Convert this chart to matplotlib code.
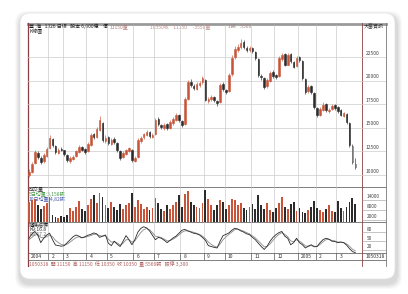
import matplotlib
matplotlib.use("Agg")
import matplotlib.pyplot as plt
from matplotlib.patches import FancyBboxPatch

plt.rcParams['font.family'] = ['Noto Sans CJK TC', 'DejaVu Sans']

# ---------------- data ----------------
opens = [10000, 10300, 11300, 12300, 11800, 11500, 12000, 12900, 13800, 13100,
         12300, 12800, 12600, 12100, 11500, 11700, 12000, 12400, 13000, 12800,
         12500, 13200, 14300, 14000, 14800, 15500, 13600, 14000, 13300, 13800,
         13400, 12500, 11900, 12200, 12500, 12700, 11500, 11900, 13600, 14000,
         14200, 14600, 14000, 14300, 15900, 15300, 15000, 15400, 15000, 15500,
         15800, 16400, 15700, 15400, 18100, 19900, 19400, 19100, 19500, 19800,
         20100, 17800, 18000, 18300, 17800, 17700, 19600, 19000, 18900, 20700,
         22500, 23200, 23600, 24100, 23500, 23200, 23500, 23000, 22300, 20500,
         20300, 19400, 20000, 20900, 20600, 20500, 22300, 22800, 21700, 22800,
         22000, 21500, 22500, 22100, 20200, 18900, 19400, 18700, 17100, 16400,
         16900, 17500, 16800, 17000, 17400, 17200, 16900, 16300, 16500, 15500,
         13100, 11200]
highs = [10600, 11400, 12700, 12500, 12000, 12300, 13000, 14200, 13900, 13200,
         12900, 13000, 12700, 12200, 12000, 12100, 12700, 13200, 13100, 12900,
         13500, 14400, 14500, 15100, 16200, 15600, 14200, 14100, 13900, 14000,
         13500, 12600, 12500, 12800, 13000, 12800, 12000, 13900, 14100, 14500,
         14800, 14700, 14400, 16000, 16100, 15400, 15500, 15500, 15800, 16100,
         16600, 16500, 15800, 18300, 20100, 20200, 19600, 19800, 20000, 20500,
         20200, 18300, 18500, 18400, 17900, 19700, 19800, 19100, 20800, 22700,
         23700, 23900, 24400, 24300, 23700, 23700, 23600, 23100, 22400, 20700,
         20400, 20300, 21000, 21100, 20700, 22600, 22900, 22900, 22900, 22900,
         22100, 22600, 22600, 22200, 20300, 19500, 19500, 18800, 17200, 17200,
         17700, 17600, 17100, 17500, 17500, 17300, 17000, 16700, 16600, 15600,
         13300, 11800]
lows = [9800, 10200, 11200, 11700, 11200, 11300, 11900, 12800, 13000, 12200,
        12200, 12500, 12000, 11400, 11300, 11600, 11900, 12300, 12500, 12200,
        12400, 13100, 13800, 13900, 14700, 13500, 13400, 13200, 13200, 13300,
        12400, 11600, 11800, 12100, 12400, 11400, 11400, 11800, 13400, 13800,
        14100, 13900, 13900, 14200, 15200, 14900, 14800, 14800, 14900, 15300,
        15700, 15600, 15100, 15300, 17900, 19300, 19000, 19000, 19300, 19600,
        17800, 17600, 17800, 17700, 17300, 17600, 18900, 18600, 18800, 20500,
        22300, 23000, 23400, 23300, 23000, 23000, 22900, 22200, 20400, 20100,
        19100, 19200, 19900, 20300, 20200, 20400, 22100, 21500, 21600, 21900,
        21300, 21400, 22000, 20100, 18600, 18700, 18600, 17000, 16100, 16200,
        16800, 16700, 16600, 16900, 16900, 16600, 16200, 16100, 15400, 13000,
        11200, 10600]
closes = [10300, 11200, 12400, 11900, 11400, 12100, 12800, 13900, 13200, 12400,
          12700, 12650, 12200, 11600, 11800, 11900, 12500, 12950, 12700, 12400,
          13300, 14200, 14000, 14900, 15800, 13700, 13900, 13400, 13700, 13500,
          12600, 11800, 12300, 12600, 12850, 11600, 11800, 13700, 13900, 14300,
          14550, 14100, 14250, 15800, 15400, 15100, 15300, 15000, 15600, 15900,
          16350, 15800, 15300, 18000, 19800, 19500, 19200, 19600, 19750, 20250,
          17950, 18100, 18250, 17900, 17600, 19500, 19100, 18800, 20600, 22400,
          23300, 23550, 24000, 23600, 23250, 23450, 23100, 22400, 20600, 20400,
          19300, 20100, 20800, 20500, 20400, 22400, 22700, 21650, 22700, 22100,
          21450, 22400, 22200, 20300, 18800, 19300, 18800, 17200, 16350, 17000,
          17400, 16900, 16900, 17300, 17100, 16800, 16350, 16550, 15600, 13200,
          11400, 10900]
volumes = [12000, 13500, 14000, 10500, 8000, 9500, 11500, 15000, 4000, 3000,
           2500, 3500, 2800, 4500, 8500, 6500, 9000, 12500, 8000, 6500,
           10500, 14000, 16500, 11500, 17500, 15000, 10500, 8500, 12000, 9000,
           7500, 11000, 8000, 10000, 11500, 17500, 9000, 13500, 11000, 8000,
           9000, 7500, 8500, 14500, 11500, 8000, 6500, 10000, 8000, 10500,
           12000, 16000, 9000, 17000, 18500, 12000, 10500, 9000, 8500, 11500,
           19500, 14000, 10000, 7500, 10500, 13000, 12000, 8000, 10000, 14000,
           13000, 10500, 11500, 8500, 7500, 9000, 11000, 8000, 16500, 10000,
           8000, 11500, 7500, 6000, 8500, 11500, 15000, 9000, 8000, 11000,
           12000, 6500, 8500, 6000, 5500, 7500, 9000, 12500, 8500, 7500,
           6000, 8000, 10500, 6500, 6000, 12500, 8500, 6500, 9000, 12000,
           14500, 11000]
k_line = [55, 70, 78, 66, 40, 55, 66, 72, 50, 32, 30, 28, 30, 40, 50, 60, 66, 62, 56, 60,
          65, 68, 73, 70, 58, 62, 66, 38, 30, 45, 35, 27, 45, 64, 50, 33, 50, 75, 88, 94,
          90, 80, 65, 50, 58, 55, 48, 40, 48, 56, 62, 72, 82, 85, 80, 76, 72, 70, 66, 58,
          48, 30, 27, 24, 22, 45, 64, 68, 73, 82, 89, 86, 80, 76, 70, 67, 58, 50, 38, 27,
          17, 28, 45, 58, 67, 74, 78, 62, 55, 33, 40, 55, 40, 33, 22, 28, 33, 26, 27, 40,
          50, 55, 52, 45, 44, 40, 42, 40, 32, 20, 10, 6]
d_line = [50, 58, 66, 68, 58, 56, 60, 66, 60, 48, 40, 34, 32, 35, 42, 50, 57, 60, 58, 58,
          61, 64, 68, 69, 64, 62, 64, 52, 42, 43, 39, 32, 38, 50, 50, 42, 46, 60, 74, 84,
          88, 84, 74, 62, 60, 57, 52, 46, 47, 52, 58, 66, 75, 80, 80, 78, 75, 72, 68, 62,
          54, 42, 34, 28, 25, 35, 50, 60, 68, 76, 84, 86, 83, 79, 74, 70, 63, 56, 46, 36,
          26, 27, 36, 48, 59, 68, 74, 68, 60, 46, 43, 50, 45, 38, 29, 28, 30, 28, 27, 34,
          43, 50, 51, 48, 46, 42, 42, 41, 36, 28, 18, 12]
hollow = [110, 111]

month_pos = [0, 7, 12, 20, 27, 36, 43, 52, 60, 67, 76, 84, 92, 98, 105]
month_labels = ['2004', '2', '3', '4', '5', '6', '7', '8', '9', '10', '11', '12', '2005', '2', '3']
price_ticks = [22500, 20000, 17500, 15000, 12500, 10000]
vol_ticks = [14000, 8000, 2000]
stoch_ticks = [80, 50, 20]

# ---------------- layout helpers ----------------
W, H = 408, 294
fig = plt.figure(figsize=(W / 100, H / 100), dpi=100)
fig.patch.set_facecolor('white')

def rect(x0, y0, x1, y1):
    return [x0 / W, 1 - y1 / H, (x1 - x0) / W, (y1 - y0) / H]

bg = fig.add_axes([0, 0, 1, 1])
bg.set_xlim(0, W)
bg.set_ylim(H, 0)
bg.axis('off')

# card shadow + card
for i, a in enumerate([0.04, 0.05, 0.06, 0.07, 0.08]):
    g = 7 - i
    bg.add_patch(FancyBboxPatch((20 - g + 2, 14 - g + 4), 375 + 2 * g - 2, 266 + 2 * g - 2,
                                boxstyle="round,pad=0,rounding_size=12",
                                fc='#7a7a7a', ec='none', alpha=a))
bg.add_patch(FancyBboxPatch((20, 13), 375, 266, boxstyle="round,pad=0,rounding_size=10",
                            fc='white', ec='#e2e2e2', lw=0.5))

X0, XSEP, X1 = 28, 362, 386
STEP = 2.94
XL = ((X0 - 29) / STEP, (X1 - 29) / STEP)
sep_idx = (XSEP - 29) / STEP

# frame
frame_c = '#8a4040'
bg.plot([X0, X1], [23.5, 23.5], color='#9a9a9a', lw=2.0)
for yy in [187, 222, 253, 260]:
    bg.plot([X0, X1], [yy, yy], color='#6a6a6a', lw=0.6)
bg.plot([X0, X0], [23, 266], color=frame_c, lw=0.9)
bg.plot([XSEP, XSEP], [23, 266], color=frame_c, lw=0.6)
bg.plot([X1, X1], [23, 266], color='#777777', lw=0.6)

grid_c = '#cccccc'
up_c, dn_c = '#c8553a', '#2b2b2b'
colors = [up_c if c >= o else dn_c for o, c in zip(opens, closes)]

# ---------------- price panel ----------------
axp = fig.add_axes(rect(X0, 25, X1, 187))
axp.set_facecolor('none')
axp.set_xlim(*XL)
axp.set_ylim(8729, 25890)
axp.axis('off')
for m in month_pos[1:]:
    axp.axvline(m - 0.5, color=grid_c, lw=0.5, zorder=0)
for t in price_ticks:
    axp.plot([XL[0], XL[1]], [t, t], color=grid_c, lw=0.5, zorder=0)
    axp.text(sep_idx + 1.2, t + 150, str(t), fontsize=3.6, color='#444444', va='bottom', ha='left')
x = list(range(len(closes)))
axp.vlines(x, lows, highs, colors=colors, lw=0.45, zorder=2)
bottoms = [min(o, c) for o, c in zip(opens, closes)]
heights = [max(abs(c - o), 60) for o, c in zip(opens, closes)]
fcs = ['white' if i in hollow else colors[i] for i in x]
ecs = ['#444444' if i in hollow else colors[i] for i in x]
axp.bar(x, heights, bottom=bottoms, width=0.55, color=fcs, edgecolor=ecs, lw=0.4, zorder=3)

# ---------------- volume panel ----------------
axv = fig.add_axes(rect(X0, 187, X1, 222))
axv.set_facecolor('none')
axv.set_xlim(*XL)
axv.set_ylim(0, 21000)
axv.axis('off')
for m in month_pos[1:]:
    axv.axvline(m - 0.5, color=grid_c, lw=0.5, zorder=0)
axv.bar(x, volumes, width=0.62, color=colors, lw=0, zorder=2)
for t in vol_ticks:
    axv.plot([sep_idx, XL[1]], [t - 600, t - 600], color='#9a9a9a', lw=0.4)
    axv.text(sep_idx + 1.5, t, str(t), fontsize=3.4, color='#444444', va='bottom', ha='left')

# ---------------- stochastic panel ----------------
axs = fig.add_axes(rect(X0, 222, X1, 253))
axs.set_facecolor('none')
axs.set_xlim(*XL)
axs.set_ylim(5, 110)
axs.axis('off')
for m in month_pos[1:]:
    axs.axvline(m - 0.5, color=grid_c, lw=0.5, zorder=0)
axs.plot(x, d_line, color='#8a8a8a', lw=0.6, zorder=2)
axs.plot(x, k_line, color='#2a2a2a', lw=0.6, zorder=3)
for t in stoch_ticks:
    axs.plot([sep_idx, XL[1]], [t - 4, t - 4], color='#9a9a9a', lw=0.4)
    axs.text(sep_idx + 1.5, t - 3, str(t), fontsize=3.4, color='#444444', va='bottom', ha='left')

# ---------------- date row ----------------
axd = fig.add_axes(rect(X0, 253, X1, 260))
axd.set_facecolor('none')
axd.set_xlim(*XL)
axd.set_ylim(0, 1)
axd.axis('off')
for m, lab in zip(month_pos, month_labels):
    if m > 0:
        axd.axvline(m - 0.5, color='#555555', lw=0.5)
    axd.text(m + 0.6, 0.45, lab, fontsize=3.6, color='#333333', va='center', ha='left')
axd.text(sep_idx + 1.2, 0.45, '1050318', fontsize=3.6, color='#333333', va='center', ha='left')

# ---------------- texts ----------------
fs = 3.6
bg.text(29, 26.5, '豐  海   1326 日線   股本 6,600億    價', fontsize=fs, color='#222222', va='center')
bg.text(110, 26.5, '11150量', fontsize=fs, color='#b08080', va='center')
bg.text(150, 26.5, '10350收    11150     -3550量', fontsize=fs, color='#c09090', va='center')
bg.text(228, 26.5, '1張    5566', fontsize=fs, color='#a08888', va='center')
bg.text(384, 26.5, '大富資訊', fontsize=fs, color='#333333', va='center', ha='right')
bg.text(29, 32, 'K線圖', fontsize=fs, color='#222222', va='center')

bg.text(29, 190, '成交量', fontsize=fs, color='#222222', va='center')
bg.text(29, 194.5, '5日均量:3,158張', fontsize=fs, color='#4a9a4a', va='center')
bg.text(29, 199, '10日均量:4,82張', fontsize=fs, color='#4a5ab0', va='center')

bg.text(29, 225, '隨機指標', fontsize=fs, color='#222222', va='center')
bg.text(29, 229.5, 'K9:16.8', fontsize=fs, color='#333333', va='center')
bg.text(29, 234, 'D9:17.2', fontsize=fs, color='#666666', va='center')

bg.text(29, 264, '1050318  開 11150  高 11150  低 10350  收 10350  量 5566張   跌停 3,300', fontsize=fs, color='#b06060', va='center')

fig.savefig('out.png', dpi=100, facecolor='white')
